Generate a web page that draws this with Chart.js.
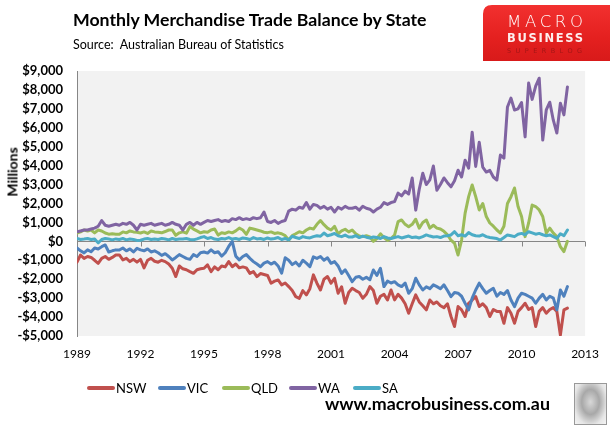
<!DOCTYPE html>
<html>
<head>
<meta charset="utf-8">
<script src="https://cdn.jsdelivr.net/npm/chart.js@4.4.1/dist/chart.umd.min.js"></script>
<style>
  html, body { margin:0; padding:0; background:#fff; }
  #wrap { position:relative; width:610px; height:426px; overflow:hidden; font-family:Lato, "Open Sans", sans-serif; }
  #c { position:absolute; left:0; top:0; }
  .abs { position:absolute; white-space:nowrap; color:#000; }
  #title { left:73px; top:9px; font-weight:bold; font-size:19px; }
  #sub { left:73px; top:37px; font-size:13px; }
  #ylab { left:12px; top:172px; font-weight:bold; font-size:14px; transform:translate(-50%,-50%) rotate(-90deg); }
  #url { left:325px; top:392px; font-weight:bold; font-size:18px; }
  #logo { position:absolute; left:0; top:0; }
  #wolf { position:absolute; left:574px; top:383px; width:31px; height:40px; border:1px solid #999;
          background:radial-gradient(ellipse at 50% 45%, #d8d8d8 0%, #a8a8a8 40%, #e6e6e6 75%, #f4f4f4 100%); }
  .leg { position:absolute; top:380px; height:16px; font-size:13px; }
  .leg span.ln { position:absolute; left:0; top:6px; width:28px; height:4px; border-radius:2px; }
  .leg span.tx { position:absolute; left:29px; top:0; line-height:16px; }
</style>
</head>
<body>
<div id="wrap">
  <canvas id="c" width="610" height="426"></canvas>
  <div id="title" class="abs">Monthly Merchandise Trade Balance by State</div>
  <div id="sub" class="abs">Source:&nbsp; Australian Bureau of Statistics</div>
  <div id="ylab" class="abs">Millions</div>
  <svg id="logo" width="610" height="70" xmlns="http://www.w3.org/2000/svg">
    <defs>
      <linearGradient id="rg" x1="0" y1="0" x2="0" y2="1">
        <stop offset="0" stop-color="#f2302f"/>
        <stop offset="0.6" stop-color="#e4201f"/>
        <stop offset="1" stop-color="#d81a1a"/>
      </linearGradient>
    </defs>
    <path d="M483,61 L483,14 Q483,5 492,5 L610,5 L610,61 Z" fill="url(#rg)"/>
    <text x="507" y="27" textLength="76" lengthAdjust="spacing" font-family="DejaVu Sans" font-weight="200" font-size="16.5" fill="#fff">MACRO</text>
    <text x="507" y="42" textLength="76" lengthAdjust="spacing" font-family="DejaVu Sans" font-weight="bold" font-size="11.5" fill="#fff" fill-opacity="0.92">BUSINESS</text>
    <text x="507" y="53" textLength="75" lengthAdjust="spacing" font-family="DejaVu Sans" font-size="6.5" fill="#a51616">SUPERBLOG</text>
  </svg>
  <div id="legend"></div>
  <div id="url" class="abs">www.macrobusiness.com.au</div>
  <div id="wolf"></div>
</div>
<script>
// ---- Data (bi-monthly readings, starting Jan 1989) ----
const startYear = 1989;
const stepMonths = 2;
const seriesNames = ['NSW', 'VIC', 'QLD', 'WA', 'SA'];
const seriesColors = ['#C0504D', '#4F81BD', '#9BBB59', '#8064A2', '#4BACC6'];
const xTickYears = [1989, 1992, 1995, 1998, 2001, 2004, 2007, 2010, 2013];
const yTicks = [-5000, -4000, -3000, -2000, -1000, 0, 1000, 2000, 3000, 4000, 5000, 6000, 7000, 8000, 9000];

const nsw = [
-1100,-720,-900,-800,-850,-1000,
-1160,-900,-800,-950,-850,-720,
-720,-980,-900,-1070,-950,-1100,
-950,-1400,-1000,-900,-1050,-1100,
-1000,-1070,-1200,-1420,-1860,-1300,
-1450,-1500,-1600,-1690,-1500,-1450,
-1420,-1240,-1600,-1350,-1500,-1300,
-1350,-1070,-1340,-1200,-1400,-1350,
-1400,-1690,-1600,-1860,-1700,-1750,
-1800,-2210,-2100,-2040,-2300,-2200,
-2390,-2600,-2920,-3010,-2600,-2830,
-2500,-1770,-2210,-2570,-2000,-1860,
-2210,-1950,-2740,-2400,-3270,-2700,
-2480,-2600,-2700,-3010,-2800,-2390,
-2600,-3270,-2900,-2800,-3100,-2570,
-3090,-2800,-3000,-3300,-3800,-3300,
-2830,-3200,-3400,-3620,-3100,-3300,
-3200,-3400,-3500,-3300,-3970,-4500,
-3440,-3620,-3970,-3270,-3100,-2920,
-3440,-3300,-3500,-3970,-3600,-3700,
-3700,-4330,-3500,-3800,-4330,-3700,
-3500,-3270,-3600,-3500,-4500,-3700,
-3500,-3800,-3600,-3500,-3700,-4950,
-3620,-3530];

const vic = [
-350,-500,-610,-450,-550,-350,
-400,-280,-190,-560,-500,-450,
-460,-350,-500,-400,-560,-370,
-450,-500,-400,-560,-500,-600,
-740,-650,-800,-980,-850,-700,
-800,-900,-950,-700,-800,-600,
-560,-620,-450,-600,-550,-780,
-600,-270,0,-780,-980,-800,
-700,-900,-1070,-1200,-1340,-1150,
-1070,-1200,-1100,-1300,-1680,-870,
-1000,-1230,-1100,-1300,-1000,-1150,
-1340,-820,-900,-800,-1000,-870,
-1160,-1070,-1300,-1690,-1500,-1800,
-2130,-1900,-1860,-2000,-1900,-2030,
-1510,-1800,-1420,-2390,-2100,-2200,
-2130,-2300,-2390,-2200,-2740,-2500,
-1950,-2300,-2570,-2400,-2500,-2300,
-2390,-2500,-2300,-2600,-2920,-2700,
-2740,-2900,-3270,-3620,-3000,-2570,
-2210,-2500,-2740,-2600,-2480,-2900,
-2700,-2800,-2600,-3100,-3450,-3000,
-2740,-2800,-2900,-3000,-3270,-3000,
-2800,-3100,-2900,-3000,-3620,-2570,
-2900,-2390];

const qld = [
440,500,600,550,600,450,
600,550,440,380,400,380,
380,500,450,550,500,480,
440,500,420,550,500,480,
450,520,600,600,320,450,
500,430,780,650,550,450,
510,480,600,650,330,450,
420,500,450,550,700,600,
370,700,650,600,550,480,
460,500,420,450,400,300,
70,300,400,510,450,600,
700,650,900,1100,880,700,
600,790,400,550,640,500,
600,400,280,250,300,230,
0,150,400,200,50,150,
330,1040,1130,900,770,900,
1170,700,1000,1130,700,850,
700,650,530,350,60,-100,
-720,70,1490,2360,2980,2360,
1660,2000,1310,970,800,600,
440,800,2000,2360,2820,1840,
1310,250,970,1920,1840,1660,
1310,440,700,440,250,-280,
-540,0];

const wa = [
500,550,600,600,650,700,
800,1100,850,800,850,900,
850,950,900,1000,850,600,
900,850,900,950,850,900,
950,850,900,1000,900,850,
600,900,1000,850,1000,900,
1000,1100,1050,1100,1150,1050,
1100,1050,1200,1150,1250,1150,
1200,1150,1250,1200,1250,1550,
1050,1000,1100,950,1050,1100,
1600,1700,1650,1800,1750,2050,
1700,1950,1900,1750,1850,1700,
1800,1550,1800,1700,1850,1750,
1750,1800,1650,1850,1750,1700,
1550,1700,1800,2050,1950,2050,
2100,2550,2400,2650,2500,3350,
1650,2750,3600,3000,3250,3980,
2700,3000,3350,3100,2880,3200,
3760,3400,4290,3870,5770,3960,
5240,3920,3660,3750,3400,3240,
4560,4400,7100,7570,6940,7000,
7330,5520,8360,7500,8200,8620,
5350,6940,7350,6400,5720,7300,
6680,8160];

const sa = [
150,100,120,150,100,130,
-80,100,150,120,80,130,
100,150,80,120,100,50,
60,120,150,100,130,100,
150,120,80,150,100,130,
120,150,100,80,130,200,
250,150,200,120,100,150,
130,200,120,150,100,180,
150,100,200,130,150,100,
180,120,150,200,100,150,
80,270,200,150,250,200,
180,250,300,270,440,300,
350,420,300,250,330,230,
230,300,200,280,220,180,
230,200,150,250,180,150,
200,250,180,230,280,200,
230,180,250,340,280,230,
250,200,280,300,340,510,
300,350,280,460,350,300,
280,350,250,200,180,150,
70,200,340,300,250,380,
420,350,510,450,380,420,
350,300,340,250,160,400,
300,600];

const allSeries = [nsw, vic, qld, wa, sa];

function toPoints(arr) {
  return arr.map((v, i) => ({ x: startYear + (i * stepMonths) / 12, y: v }));
}

function fmtMoney(v) {
  const s = '$' + Math.abs(v).toLocaleString('en-US');
  return v < 0 ? '-' + s : s;
}

const plotBg = {
  id: 'plotBg',
  beforeDraw(chart) {
    const { ctx, chartArea: a } = chart;
    ctx.save();
    ctx.fillStyle = '#f2f2f2';
    ctx.fillRect(a.left, a.top, a.right - a.left, a.bottom - a.top);
    ctx.restore();
  },
  beforeDatasetsDraw(chart) {
    const { ctx, scales } = chart;
    const y0 = Math.round(scales.y.getPixelForValue(0)) + 0.5;
    ctx.save();
    ctx.strokeStyle = '#868686';
    ctx.lineWidth = 1;
    ctx.beginPath();
    ctx.moveTo(chart.chartArea.left, y0);
    ctx.lineTo(chart.chartArea.right, y0);
    xTickYears.forEach(yr => {
      const px = Math.round(scales.x.getPixelForValue(yr)) + 0.5;
      ctx.moveTo(px, y0);
      ctx.lineTo(px, y0 + 5);
    });
    ctx.stroke();
    ctx.restore();
  }
};

const datasets = seriesNames.map((name, i) => ({
  label: name,
  data: toPoints(allSeries[i]),
  borderColor: seriesColors[i],
  backgroundColor: seriesColors[i],
  borderWidth: 3,
  pointRadius: 0,
  tension: 0,
  fill: false,
  order: seriesNames.length - i,
  borderJoinStyle: 'round',
  borderCapStyle: 'round'
}));

new Chart(document.getElementById('c'), {
  type: 'line',
  data: { datasets },
  options: {
    responsive: false,
    animation: false,
    devicePixelRatio: 1,
    layout: { padding: { top: 71, right: 24, bottom: 60, left: 0 } },
    plugins: { legend: { display: false }, tooltip: { enabled: false } },
    scales: {
      x: {
        type: 'linear',
        min: 1989, max: 2013,
        afterFit(scale) { scale.height = 30; },
        afterBuildTicks(scale) { scale.ticks = xTickYears.map(v => ({ value: v })); },
        grid: { display: false, drawTicks: false },
        border: { display: false },
        ticks: {
          autoSkip: false, maxRotation: 0, padding: 11,
          color: '#000',
          font: { family: 'Lato', size: 12 },
          callback: v => String(v)
        }
      },
      y: {
        min: -5000, max: 9000,
        afterFit(scale) { scale.width = 77; },
        afterBuildTicks(scale) { scale.ticks = yTicks.map(v => ({ value: v })); },
        grid: { display: false, drawTicks: false },
        border: { display: true, color: '#868686', width: 1 },
        ticks: {
          padding: 14,
          color: '#000',
          font: { family: 'Lato', size: 13, weight: 'bold' },
          callback: v => fmtMoney(v)
        }
      }
    }
  },
  plugins: [plotBg]
});

// Legend built from the dataset names/colours
const legLeft = [87, 158, 222, 289, 353];
const leg = document.getElementById('legend');
seriesNames.forEach((n, i) => {
  const d = document.createElement('div');
  d.className = 'leg';
  d.style.left = legLeft[i] + 'px';
  d.innerHTML = '<span class="ln" style="background:' + seriesColors[i] + '"></span><span class="tx">' + n + '</span>';
  leg.appendChild(d);
});

// fit text widths to reference
function fitWidth(id, w) {
  const el = document.getElementById(id);
  const cur = el.getBoundingClientRect().width;
  const fs = parseFloat(getComputedStyle(el).fontSize);
  el.style.fontSize = (fs * w / cur).toFixed(2) + 'px';
}
fitWidth('title', 354);
fitWidth('sub', 211);
fitWidth('url', 225);
</script>
</body>
</html>
